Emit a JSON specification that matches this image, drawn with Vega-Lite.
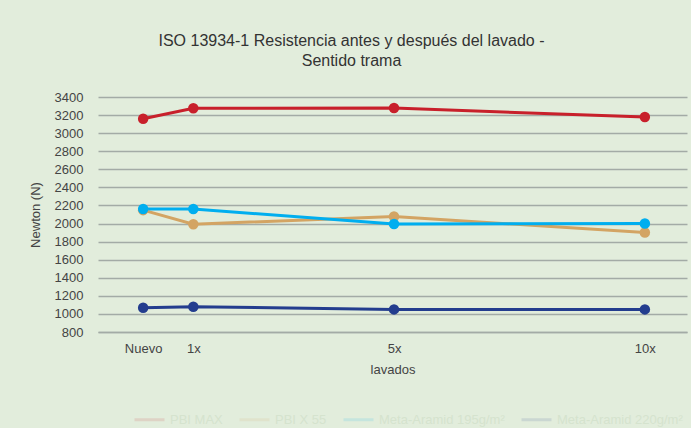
{
  "$schema": "https://vega.github.io/schema/vega-lite/v6.json",
  "width": 589,
  "height": 235,
  "autosize": "none",
  "padding": {"left": 98, "top": 97, "right": 4, "bottom": 96},
  "background": "#e2eddc",
  "title": {
    "text": ["ISO 13934-1 Resistencia antes y después del lavado -", "Sentido trama"],
    "font": "Liberation Sans",
    "fontSize": 16,
    "fontWeight": "normal",
    "color": "#333333",
    "lineHeight": 20,
    "anchor": "middle",
    "dx": -41,
    "offset": 22
  },
  "config": {
    "view": {"stroke": null},
    "font": "Liberation Sans"
  },
  "data": {
    "values": [
      {"serie": "PBI MAX", "lavados": 0, "newton": 3160},
      {"serie": "PBI MAX", "lavados": 1, "newton": 3275},
      {"serie": "PBI MAX", "lavados": 5, "newton": 3278},
      {"serie": "PBI MAX", "lavados": 10, "newton": 3178},
      {"serie": "PBI X 55", "lavados": 0, "newton": 2148},
      {"serie": "PBI X 55", "lavados": 1, "newton": 1992},
      {"serie": "PBI X 55", "lavados": 5, "newton": 2078},
      {"serie": "PBI X 55", "lavados": 10, "newton": 1900},
      {"serie": "Meta-Aramid 195g/m²", "lavados": 0, "newton": 2160},
      {"serie": "Meta-Aramid 195g/m²", "lavados": 1, "newton": 2160},
      {"serie": "Meta-Aramid 195g/m²", "lavados": 5, "newton": 1995},
      {"serie": "Meta-Aramid 195g/m²", "lavados": 10, "newton": 2000},
      {"serie": "Meta-Aramid 220g/m²", "lavados": 0, "newton": 1068},
      {"serie": "Meta-Aramid 220g/m²", "lavados": 1, "newton": 1080},
      {"serie": "Meta-Aramid 220g/m²", "lavados": 5, "newton": 1050},
      {"serie": "Meta-Aramid 220g/m²", "lavados": 10, "newton": 1050}
    ]
  },
  "encoding": {
    "x": {
      "field": "lavados",
      "type": "quantitative",
      "scale": {"domain": [-0.9, 10.84], "nice": false, "zero": false},
      "axis": {
        "title": "lavados",
        "titleFont": "Liberation Sans",
        "titleFontSize": 13,
        "titleFontWeight": "normal",
        "titleColor": "#444444",
        "titlePadding": 8,
        "values": [0, 1, 5, 10],
        "labelExpr": "datum.value == 0 ? 'Nuevo' : datum.value + 'x'",
        "labelFontSize": 13,
        "labelColor": "#444444",
        "labelPadding": 10,
        "ticks": false,
        "grid": false,
        "domainColor": "#a3aba6",
        "domainWidth": 1.5
      }
    },
    "y": {
      "field": "newton",
      "type": "quantitative",
      "scale": {"domain": [800, 3400], "nice": false, "zero": false},
      "axis": {
        "title": "Newton (N)",
        "titleFont": "Liberation Sans",
        "titleFontSize": 13,
        "titleFontWeight": "normal",
        "titleColor": "#444444",
        "titlePadding": 12,
        "format": "d",
        "values": [800, 1000, 1200, 1400, 1600, 1800, 2000, 2200, 2400, 2600, 2800, 3000, 3200, 3400],
        "labelFontSize": 13,
        "labelColor": "#444444",
        "labelPadding": 15,
        "ticks": false,
        "domain": false,
        "gridColor": "#a3aba6",
        "gridWidth": 1.5
      }
    },
    "color": {
      "field": "serie",
      "type": "nominal",
      "sort": ["PBI MAX", "PBI X 55", "Meta-Aramid 195g/m²", "Meta-Aramid 220g/m²"],
      "scale": {
        "domain": ["PBI MAX", "PBI X 55", "Meta-Aramid 195g/m²", "Meta-Aramid 220g/m²"],
        "range": ["#c8202b", "#d3a463", "#00aeef", "#233d8e"]
      },
      "legend": {
        "title": null,
        "orient": "none",
        "direction": "horizontal",
        "legendX": 35,
        "legendY": 306,
        "symbolType": "stroke",
        "symbolSize": 900,
        "symbolStrokeWidth": 3,
        "symbolOpacity": 0.12,
        "labelFontSize": 13,
        "labelColor": "#d5e3ce",
        "columnPadding": 10,
        "labelOffset": 4
      }
    }
  },
  "layer": [
    {"mark": {"type": "line", "strokeWidth": 3}},
    {"mark": {"type": "point", "filled": true, "opacity": 1, "size": 110}}
  ]
}
